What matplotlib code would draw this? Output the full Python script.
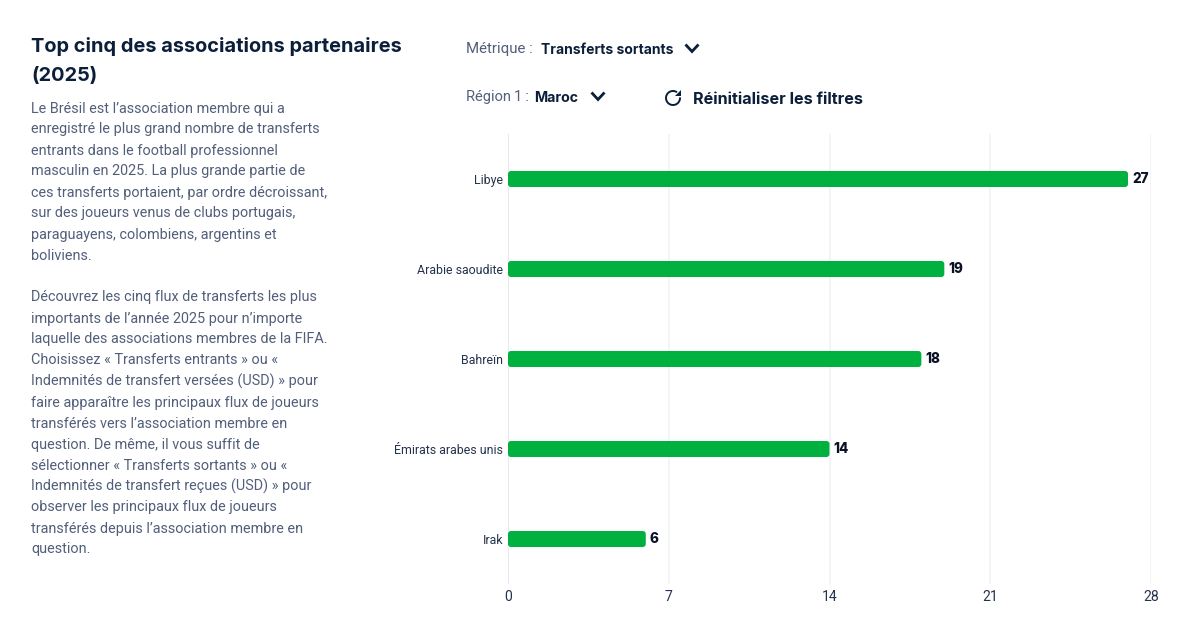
import matplotlib
matplotlib.use("Agg")
import matplotlib.pyplot as plt
from matplotlib.patches import FancyBboxPatch, Arc, Polygon

plt.rcParams['font.family'] = ['Inter', 'DejaVu Sans']

# data
countries = ["Libye", "Arabie saoudite", "Bahreïn", "Émirats arabes unis", "Irak"]
transfers = [27, 19, 18, 14, 6]
x_ticks = [0, 7, 14, 21, 28]

title_lines = ["Top cinq des associations partenaires", "(2025)"]
body_lines = [
    "Le Brésil est l’association membre qui a",
    "enregistré le plus grand nombre de transferts",
    "entrants dans le football professionnel",
    "masculin en 2025. La plus grande partie de",
    "ces transferts portaient, par ordre décroissant,",
    "sur des joueurs venus de clubs portugais,",
    "paraguayens, colombiens, argentins et",
    "boliviens.",
    "",
    "Découvrez les cinq flux de transferts les plus",
    "importants de l’année 2025 pour n’importe",
    "laquelle des associations membres de la FIFA.",
    "Choisissez « Transferts entrants » ou «",
    "Indemnités de transfert versées (USD) » pour",
    "faire apparaître les principaux flux de joueurs",
    "transférés vers l’association membre en",
    "question. De même, il vous suffit de",
    "sélectionner « Transferts sortants » ou «",
    "Indemnités de transfert reçues (USD) » pour",
    "observer les principaux flux de joueurs",
    "transférés depuis l’association membre en",
    "question.",
]

NAVY = "#0b1f3a"
GREY = "#525f7a"
GREEN = "#00b140"
BODY_FONT = ['Roboto', 'DejaVu Sans']
W, H = 1201, 623

fig = plt.figure(figsize=(W / 100, H / 100), dpi=100, facecolor="white")


def px(size):
    return size * 72 / 100


# overlay in pixel coords for the text column and the filter controls
ov = fig.add_axes([0, 0, 1, 1])
ov.set_xlim(0, W)
ov.set_ylim(H, 0)
ov.axis("off")

for i, line in enumerate(title_lines):
    ov.text(31, 46 + i * 30, line, fontsize=px(20), fontweight="bold", color=NAVY, va="center")
for i, line in enumerate(body_lines):
    ov.text(31, 108.5 + i * 21, line, fontsize=px(14.45), color=GREY, va="center", family=BODY_FONT)

ov.text(466, 48.5, "Métrique :", fontsize=px(15), color=GREY, va="center", family=BODY_FONT)
ov.text(541, 50, "Transferts sortants", fontsize=px(13.9), fontweight="bold", color=NAVY, va="center")
ov.text(466, 96.5, "Région\u20091\u2009:", fontsize=px(14.6), color=GREY, va="center", family=BODY_FONT)
ov.text(534, 98, "Maroc", fontsize=px(14.2), fontweight="bold", color=NAVY, va="center")
ov.text(693, 99, "Réinitialiser les filtres", fontsize=px(16.2), fontweight="bold", color=NAVY, va="center")

# chevrons
for cx, cy in [(692, 48), (598, 96)]:
    ov.plot([cx - 6.5, cx, cx + 6.5], [cy - 3.5, cy + 3.5, cy - 3.5], color=NAVY, lw=2.0,
            solid_capstyle="butt", solid_joinstyle="miter")

# reset icon
ov.add_patch(Arc((673, 98), 14, 14, theta1=-5, theta2=305, color=NAVY, lw=1.4))
ov.add_patch(Polygon([(681, 90), (681, 96), (675, 96)], closed=True, color=NAVY, lw=0))

# chart
ax = fig.add_axes([508 / W, 1 - 584 / H, (1151 - 508) / W, (584 - 134) / H])
ax.set_facecolor("none")
ax.set_xlim(0, 28)
ax.set_ylim(len(countries) - 0.5, -0.5)
ax.set_xticks(x_ticks)
ax.set_yticks(range(len(countries)))
ax.set_yticklabels(countries, family=BODY_FONT)
ax.set_xticklabels(x_ticks, family=BODY_FONT)
ax.tick_params(axis="both", length=0)
ax.tick_params(axis="y", pad=3.6, labelsize=px(12.4), labelcolor="#24334d")
ax.tick_params(axis="x", pad=4.5, labelsize=px(14), labelcolor="#24334d")
for sp in ax.spines.values():
    sp.set_visible(False)
ax.grid(axis="x", color="#f0f1f3", lw=1.1)
ax.set_axisbelow(True)
ax.axvline(0, color="#e3e5ec", lw=1.1, zorder=1)

# rounded bars, 3px radius: x scale 643/28 px per unit, y scale 90 px per unit
bar_h = 16 / 90
radius = 3 / (643 / 28)
for i, v in enumerate(transfers):
    ax.add_patch(FancyBboxPatch((0, i - bar_h / 2), v, bar_h,
                                boxstyle=f"round,pad=0,rounding_size={radius}",
                                mutation_aspect=(3 / 90) / radius,
                                fc=GREEN, ec="none", zorder=3))
    ax.annotate(str(v), (v, i), xytext=(4, 0), textcoords="offset pixels", va="center", ha="left",
                fontsize=px(13.5), fontweight="heavy", color="#0a1224", zorder=4)

fig.savefig("out.png", dpi=100, facecolor="white")
